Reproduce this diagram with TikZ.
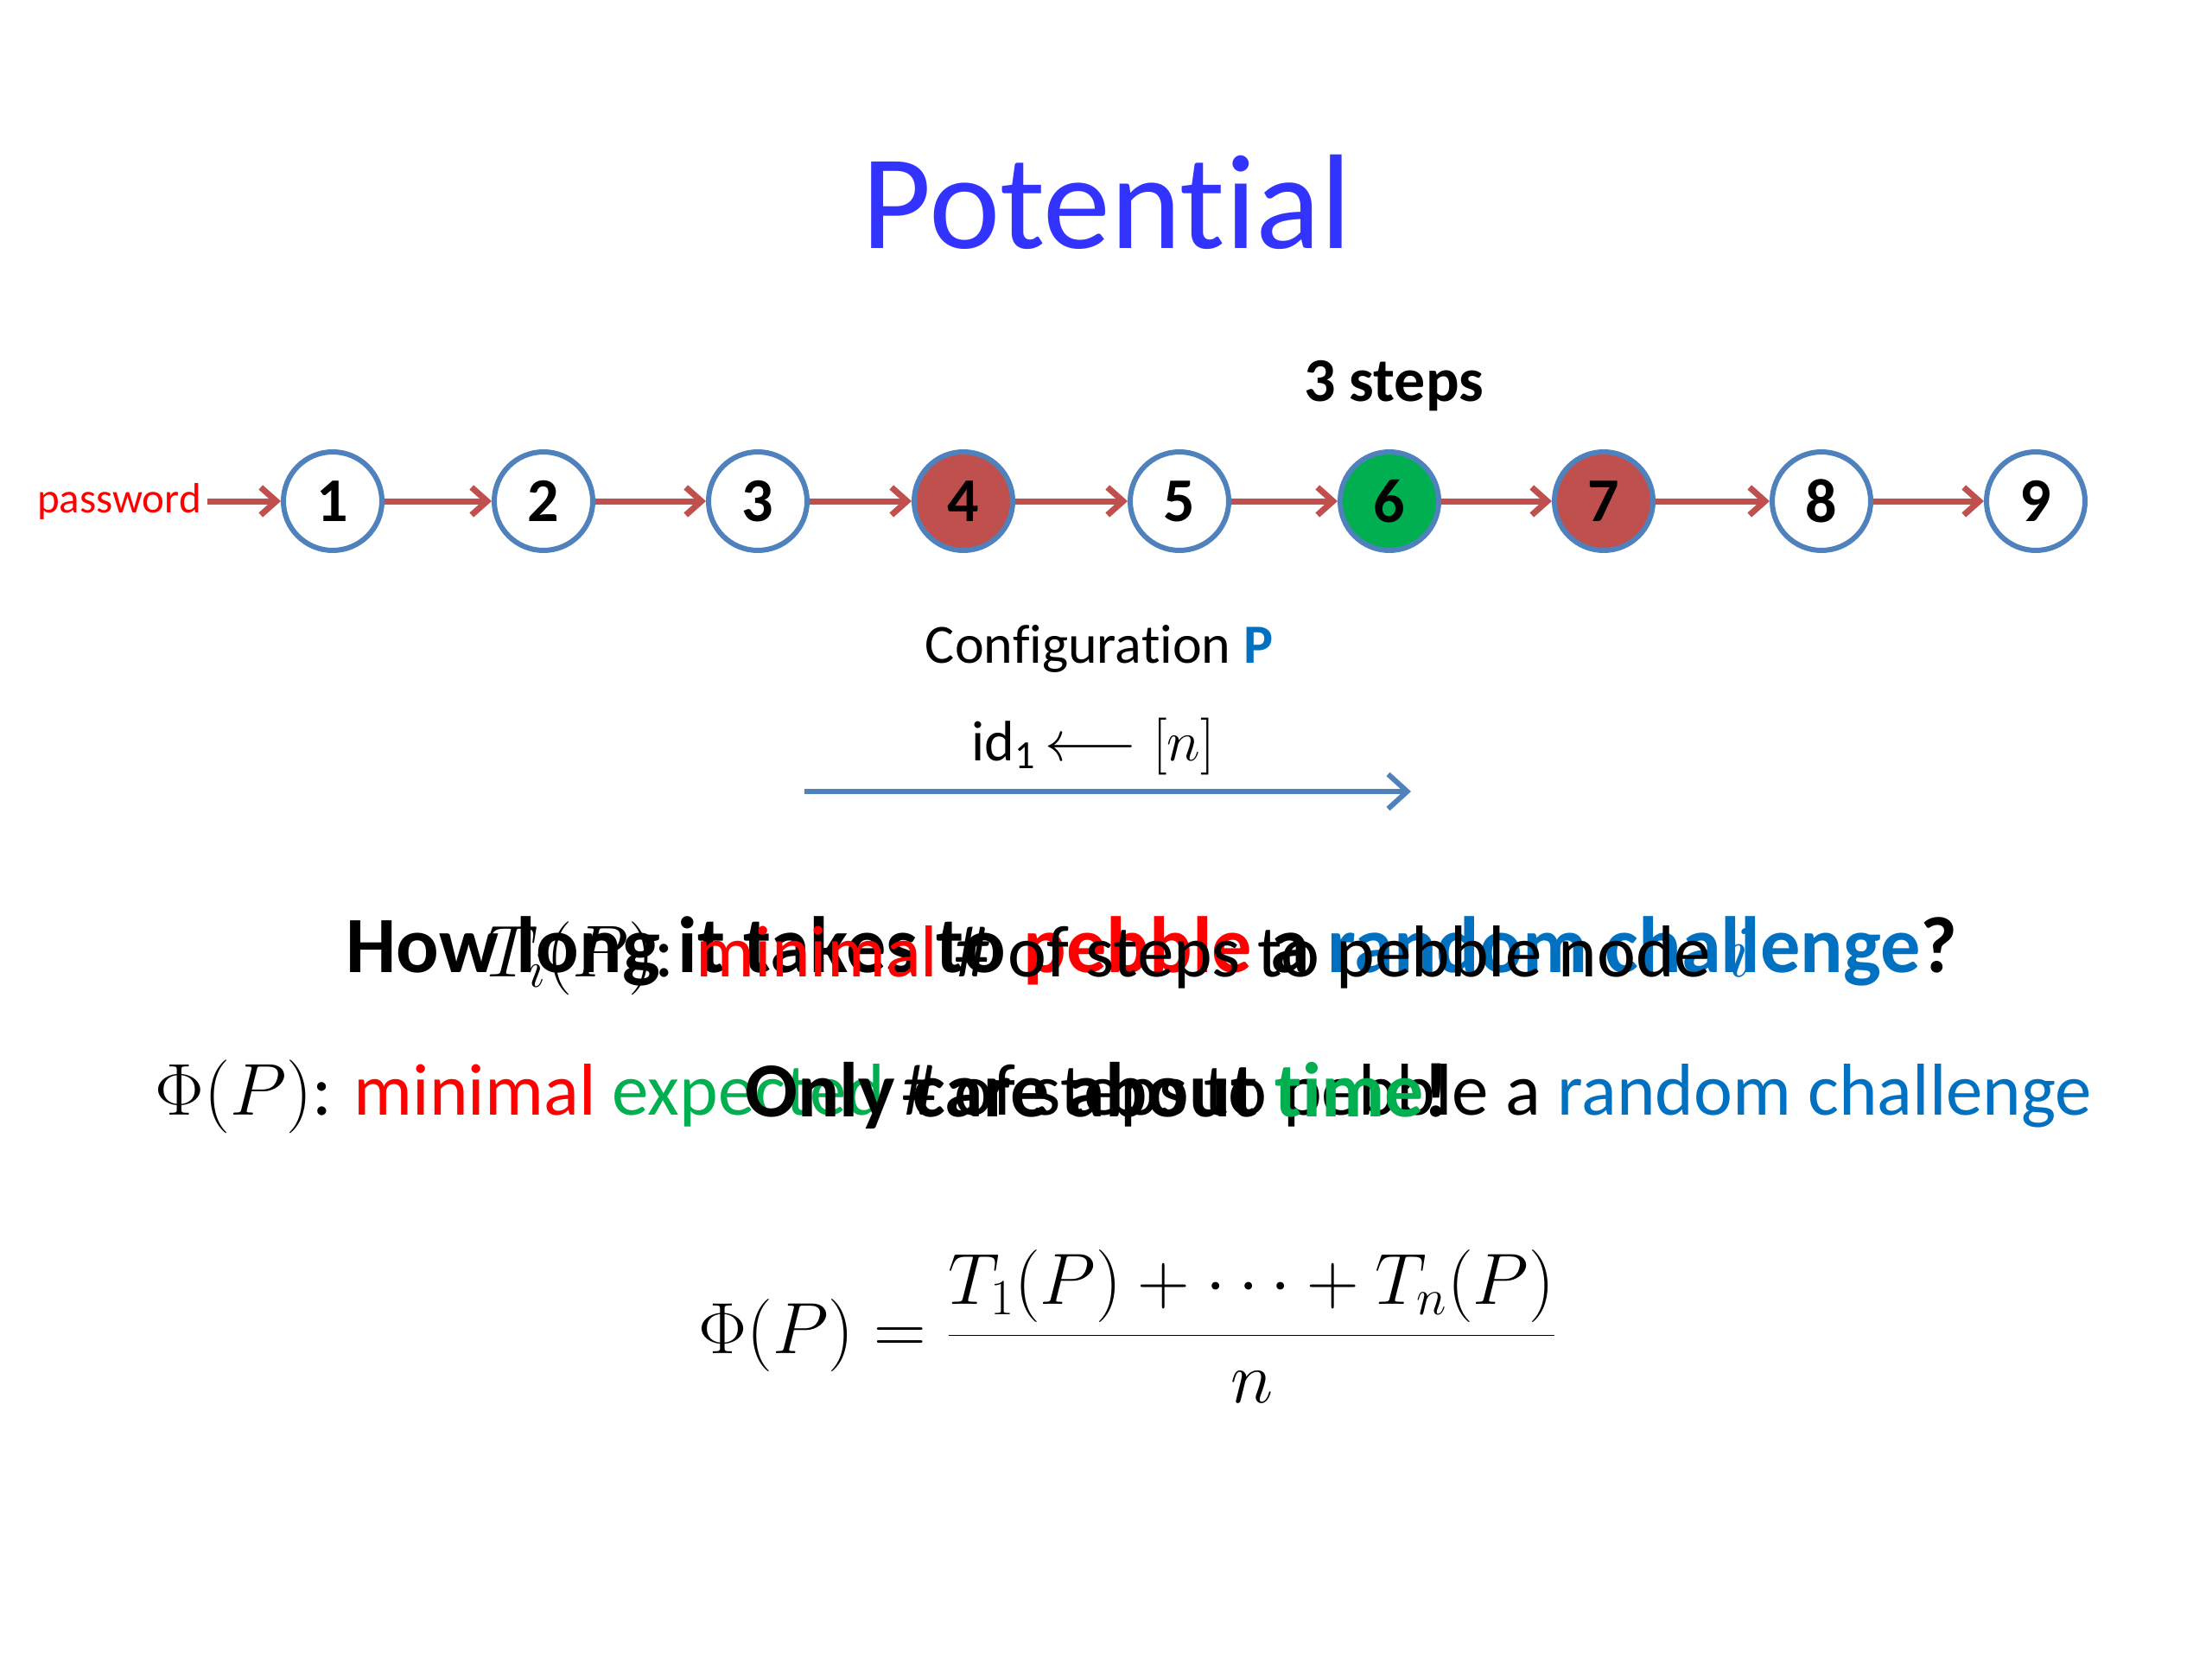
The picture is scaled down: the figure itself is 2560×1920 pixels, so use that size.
\RequirePackage{fix-cm}
\documentclass[tikz,border=0pt]{standalone}
\usepackage{fontspec}
\setmainfont{Carlito}[Ligatures=CommonOff]
\usetikzlibrary{arrows.meta}

\definecolor{titleblue}{RGB}{51,51,255}
\definecolor{ringblue}{RGB}{79,129,189}
\definecolor{pebred}{RGB}{192,80,77}
\definecolor{pebgreen}{RGB}{0,176,80}
\definecolor{wordblue}{RGB}{0,112,192}
\definecolor{wordred}{RGB}{255,0,0}
\newcommand{\sz}[1]{\fontsize{#1}{#1}\selectfont}

\tikzset{
  pebble/.style={circle, draw=ringblue, line width=3pt, fill=white,
    minimum size=57pt, inner sep=0pt, font=\sz{36pt}\bfseries},
  chain/.style={draw=pebred, line width=3.5pt,
    -{Straight Barb[length=9pt,width=16pt]}},
  txt/.style={inner sep=0pt, anchor=base}
}

\begin{document}
\begin{tikzpicture}[x=0.5pt, y=-0.5pt]
    \useasboundingbox (0,0) rectangle (2560,1920);
    \fill[white] (0,0) rectangle (2560,1920);

    % title
    \node[txt, text=titleblue, font=\sz{78pt}] (title) at (1281,288) {Potential};

    % the chain of nodes
    \foreach \i/\x/\c in {1/385/white, 2/629/white, 3/877/white, 4/1115/pebred,
        5/1365/white, 6/1608/pebgreen, 7/1856/pebred, 8/2108/white, 9/2356/white}
      \node[pebble, fill=\c] (p\i) at (\x,580) {\i};
    \foreach \i [count=\j from 2] in {1,...,8}
      \draw[chain] (p\i) -- (p\j);

    \node[anchor=east, text=wordred, font=\sz{24.5pt}] (pw) at (240,580) {password};
    \draw[chain] (pw) -- (p1);

    \node[txt, font=\sz{36pt}\bfseries] (steps) at (1613,465) {3 steps};

    % configuration and challenge
    \node[txt, font=\sz{32pt}] (conf) at (1272,767)
      {Configuration \textcolor{wordblue}{\bfseries P}};
    \node[txt, font=\sz{33pt}] (chal) at (1265,880)
      {id\textsubscript{1}\,$\longleftarrow [n]$};
    \coordinate (ts) at (931,916);
    \coordinate (te) at (1633,916);
    \draw[draw=ringblue, line width=3pt, -{Straight Barb[length=11pt,width=20pt]}] (ts) -- (te);

    % overlapping lines
    \node[txt, anchor=base west, font=\sz{46.2pt}\bfseries] (howlong) at (400,1125)
      {How long it takes to \textcolor{wordred}{pebble} a \textcolor{wordblue}{random challenge}?};
    \node[txt, anchor=base west, font=\sz{42.5pt}] (ti) at (562,1130)
      {$T_i(P)$: \textcolor{wordred}{minimal} \# of steps to pebble node \textcolor{wordblue}{$i$}};

    \node[txt, anchor=base west, font=\sz{42.5pt}] (phi) at (179,1290)
      {$\Phi(P)$: \textcolor{wordred}{minimal} \textcolor{pebgreen}{expected} \# of steps to pebble a \textcolor{wordblue}{random challenge}};
    \node[txt, anchor=base west, font=\sz{45pt}\bfseries] (only) at (862,1292)
      {Only care about \textcolor{pebgreen}{time}!};

    % formula
    \node[txt, anchor=base west, font=\sz{42pt}] (formula) at (808,1566)
      {$\displaystyle \Phi(P) = \frac{T_1(P)+\cdots+T_n(P)}{n}$};
\end{tikzpicture}
\end{document}
